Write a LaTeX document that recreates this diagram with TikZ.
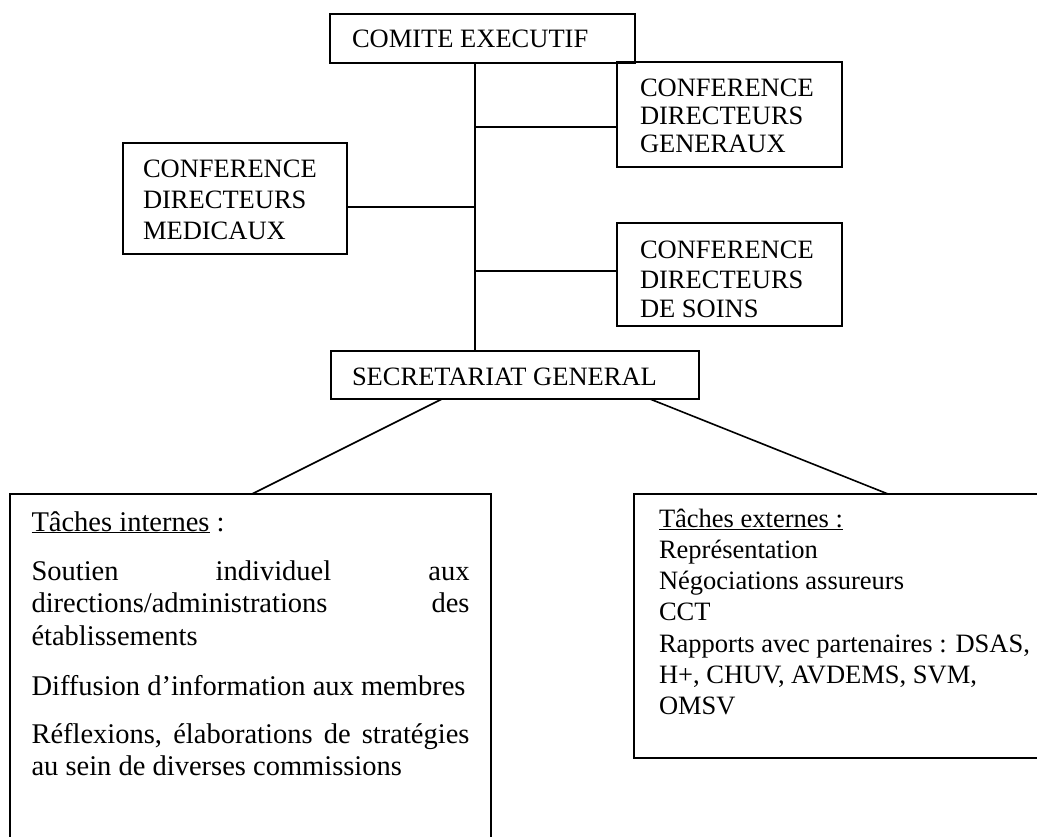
\documentclass[tikz,border=0pt]{standalone}
\usepackage{fontspec}
\setmainfont{Liberation Serif}
\newcommand\mybox[4]{\parbox[c][#1][t]{#2}{\rule{0pt}{#3}#4}}
\begin{document}
\begin{tikzpicture}[x=1pt,y=-1pt,
  box/.style={draw, line width=1.6pt, anchor=north west, inner ysep=0pt, outer sep=0pt, align=left},
  ln/.style={line width=1.6pt}]
\useasboundingbox (0,0) rectangle (1037,837);

\node[box, inner xsep=22pt, font=\fontsize{26.5}{31}\selectfont] (comite) at (330,14)
  {\mybox{49pt}{261pt}{34pt}{COMITE EXECUTIF}};
\node[box, inner xsep=23pt, font=\fontsize{26.5}{28}\selectfont] (gen) at (617,62)
  {\mybox{105pt}{179pt}{35pt}{CONFERENCE\\DIRECTEURS\\GENERAUX}};
\node[box, inner xsep=20pt, font=\fontsize{26.5}{31}\selectfont] (med) at (123,143)
  {\mybox{111pt}{184pt}{34.7pt}{CONFERENCE\\DIRECTEURS\\MEDICAUX}};
\node[box, inner xsep=23pt, font=\fontsize{26.5}{29.5}\selectfont] (soins) at (617,223)
  {\mybox{103pt}{179pt}{36pt}{CONFERENCE\\DIRECTEURS\\DE SOINS}};
\node[box, inner xsep=21pt, font=\fontsize{26.5}{31}\selectfont] (sec) at (331,351)
  {\mybox{48pt}{326pt}{34pt}{SECRETARIAT GENERAL}};
\node[box, inner xsep=21.5pt, font=\fontsize{28.5}{32.5}\selectfont] (int) at (10,494)
  {\mybox{360pt}{438pt}{37pt}{\underline{Tâches internes} :\\[16.5pt]
   Soutien\hfill individuel\hfill aux\\
   directions/administrations\hfill des\\
   établissements\\[17.5pt]
   Diffusion d’information aux membres\\[15.5pt]
   Réflexions,\hfill élaborations\hfill de\hfill stratégies\\
   au sein de diverses commissions}};
\node[box, inner xsep=25pt, font=\fontsize{26.5}{31.3}\selectfont] (ext) at (634,494)
  {\mybox{264pt}{390pt}{33pt}{\underline{Tâches externes :}\\
   Représentation\\
   Négociations assureurs\\
   CCT\\
   Rapports avec partenaires : DSAS,\\
   H+, CHUV, AVDEMS, SVM,\\
   OMSV}};

\coordinate (trunk) at (475,0);
\coordinate (jg) at (475,127);
\coordinate (jm) at (475,207);
\coordinate (js) at (475,271);

\draw[ln] (comite.south -| trunk) -- (sec.north -| trunk);
\draw[ln] (jg) -- (jg -| gen.west);
\draw[ln] (med.east |- jm) -- (jm);
\draw[ln] (js) -- (js -| soins.west);
\draw[ln] ([xshift=111pt]sec.south west) -- ([xshift=242pt]int.north west);
\draw[ln] ([xshift=-49pt]sec.south east) -- ([xshift=254pt]ext.north west);
\end{tikzpicture}
\end{document}
